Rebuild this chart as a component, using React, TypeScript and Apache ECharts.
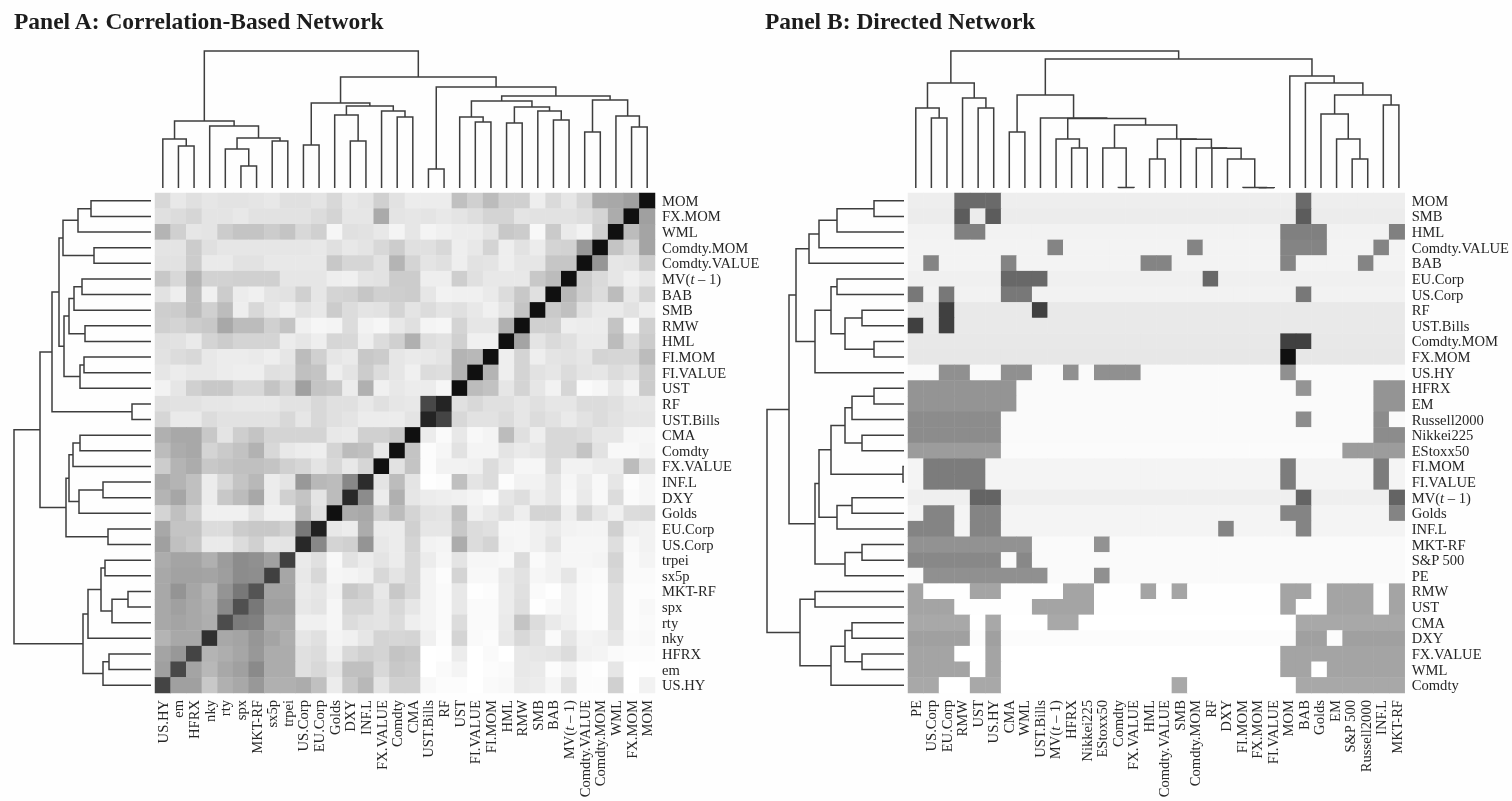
import React, { useEffect, useRef } from "react";
import * as echarts from "echarts";

const FONT = '"Liberation Serif", "Times New Roman", serif';

// ---------- Panel A ----------
const corrRowLabels = ["MOM","FX.MOM","WML","Comdty.MOM","Comdty.VALUE","MV(t – 1)","BAB","SMB","RMW","HML","FI.MOM","FI.VALUE","UST","RF","UST.Bills","CMA","Comdty","FX.VALUE","INF.L","DXY","Golds","EU.Corp","US.Corp","trpei","sx5p","MKT-RF","spx","rty","nky","HFRX","em","US.HY"];
const corrColLabels = ["US.HY","em","HFRX","nky","rty","spx","MKT-RF","sx5p","trpei","US.Corp","EU.Corp","Golds","DXY","INF.L","FX.VALUE","Comdty","CMA","UST.Bills","RF","UST","FI.VALUE","FI.MOM","HML","RMW","SMB","BAB","MV(t – 1)","Comdty.VALUE","Comdty.MOM","WML","FX.MOM","MOM"];
// grey level of every cell (hex), one line per row
const corrShades = [
"d8 e8 e0 e6 e3 e3 e5 e8 e0 e0 e4 d8 e8 e4 d0 e2 ec ec ec c0 d0 bc d0 d0 ee da e6 d6 aa a8 a0 10",
"e0 dc d6 e4 e4 e8 e2 e2 e2 e2 dc d4 e6 e6 aa e4 e6 e4 e8 e4 de d4 d4 e4 e2 e2 e2 de d4 ac 10 a0",
"b4 d0 e6 e4 cc c4 c4 cc c4 d8 d0 f6 e0 e2 e8 f4 e6 f4 f0 ec ec e4 c8 cc f8 ca ea f2 d0 10 bc a4",
"e4 e4 cc e0 e6 e6 e6 e6 e6 e6 e8 e0 e8 e4 d8 cc e0 e0 d8 ee e8 d4 ee e2 ec d4 d2 98 10 c4 d8 a4",
"e2 e2 cc ea ea e2 e2 e8 e8 e8 e8 c8 d6 d6 e2 b4 d4 e4 e0 ee e2 e4 ee e6 e6 c6 c6 10 96 e6 e4 cc",
"c8 d8 b4 d2 d2 d0 d0 d0 e6 e6 e6 ee f0 e4 e2 cc cc ee ee ce e0 e8 e8 e8 c8 bc 10 cc da e6 f0 e8",
"e2 ee bc f0 cc ec f0 e4 e2 d0 e6 d4 d2 c6 d0 ce cc e6 f2 f0 f0 ea dc c8 e0 10 b8 ce dc bc e8 d4",
"ce cc bc d0 bc ee d8 e6 ee e2 e8 cc dc e4 e2 d4 e4 dc e4 e0 e8 f0 e4 c4 10 ca c0 e0 ea ea e2 ee",
"d0 d4 cc c8 a8 bc bc d0 c4 f0 f6 f4 dc f2 f6 e8 e0 f4 f6 d4 e6 e6 b0 10 d0 d0 ee ec ec c4 f8 d0",
"e0 e2 ea d4 cc d4 d4 d4 ec e6 ee d6 d8 ee dc d0 b0 de e2 d0 f0 f0 10 a4 e4 da e0 ea ea bc de cc",
"e2 dc d8 e8 ec ec ea ee e6 bc d0 e6 ea c8 cc e6 ea e8 e4 b4 b8 10 ee d4 ee e4 e2 e6 d4 d6 d6 bc",
"e6 ec e8 e8 ec ee ee e0 e2 c0 c4 ee e4 cc dc e6 f0 dc de b4 10 b4 ee d4 e2 e6 dc e4 e6 dc e2 cc",
"f2 e6 d0 c8 c8 d8 d8 c4 d4 a0 c4 c8 ec b0 f0 e8 ec ec f6 10 bc c2 e6 d4 e6 f2 d6 fa f6 e8 f4 cc",
"e0 e2 e2 e6 e6 e8 e8 e8 e2 e2 d8 e0 e0 e8 e0 e6 e8 48 24 e0 d8 e0 e0 e6 e0 e6 e6 dc dc e0 e8 e8",
"d6 ea ea dc e2 e2 e2 e2 d8 e6 d8 e0 e4 ec ec ec e4 24 44 d8 e2 e2 dc e6 dc e2 ea e2 dc e2 e6 e6",
"b0 a8 a8 c8 e4 ce c4 d4 d4 d4 d4 e8 ea d0 d0 c8 10 ec fa e8 f8 f4 bc e0 ee d8 d8 dc e6 e6 f6 f6",
"bc ac a8 d4 ca c2 b2 d8 e8 ec ee d4 bc c0 e8 10 c4 fc f6 e2 f4 f4 e4 ea e6 d8 d8 c4 e2 f8 f8 f4",
"cc b4 ac c8 c4 c0 c0 c4 d0 d6 e4 d8 e8 d6 10 e2 c4 fc f2 f2 f0 dc ea f6 f6 dc f2 f2 ec ec bc e0",
"ac b4 c0 ec d8 c4 b8 ec e4 98 b8 bc 88 2c e4 bc e4 fe fc c0 e4 dc fc f2 f2 e6 f6 ec f8 e6 fc f6",
"b4 a6 c0 ec c8 bc a8 ec d0 c4 e4 bc 28 8c ec b0 e6 ec ee f0 f4 fa e6 de ee e6 f8 ea f8 dc fa f6",
"d4 c0 d0 f0 f0 f0 e2 f0 f0 bc e0 10 ac a8 d0 bc d4 e2 e4 c0 f0 e8 e0 ee d4 d4 ee d4 e6 f0 dc da",
"a8 c4 c4 dc dc cc c8 c8 d0 78 20 e8 ec ac ec ec d0 e6 e6 c8 dc e0 f6 f6 f0 ea f2 f4 f4 d0 f0 f2",
"a0 c0 c8 ea ea dc d0 e6 e4 28 88 d4 d0 94 e8 ec d4 f2 f4 ac dc d4 f4 f6 f0 e4 f6 f6 f6 de f8 f2",
"ac a4 a4 b0 9c 8c 90 a0 40 ea e0 f8 e2 ec e4 ec d8 ec f6 e4 f6 f6 f8 dc fa f2 f6 f6 f4 d4 fa f4",
"a8 a2 a2 a4 9e 8c 8e 40 a6 e8 d8 f6 f4 f0 d8 e4 d8 f4 fc d4 f8 f8 ea e2 f6 f2 e6 f8 fa d8 fa fa",
"a8 94 a6 b4 94 78 54 a4 a4 ea e6 f2 c8 d0 e8 c8 d8 f4 fa e8 fe fc ec e0 fa fe f2 fa fc e0 fc fc",
"a8 a0 a8 b0 8a 50 78 a0 a0 e8 e4 f6 d6 d6 e4 d8 e6 f4 fa e8 fa fa ec de fe f8 f2 fa fc e0 fc f8",
"a8 a4 a8 ae 4c 7c 80 aa a8 f0 f0 f6 dc e2 e4 dc ee f4 fa dc fa fa ea c4 dc ea f0 fa fc e0 fc fa",
"b4 a8 a8 30 a8 a4 96 a4 ae e6 e0 f4 f0 e6 d4 d6 d4 f0 fc d4 fa fc e8 d8 e2 fa e6 f4 f2 e6 fa f8",
"a4 98 44 b4 ae a6 98 ac ac e0 dc f0 d8 d0 d4 c4 c8 ff fe ec ff fa ff e8 e6 e4 dc f2 f4 fa fc fc",
"a0 48 a4 b8 a8 a0 8a ac ac e0 d8 e4 c0 c0 d8 c8 cc ff fa f4 ff fc fa e8 ea fc f2 fc fe e6 ff fe",
"44 a0 a0 c8 b0 a8 98 b0 b0 ac c0 ec c8 b8 e4 d0 d0 f8 fc fc ff fa f8 ea ec f6 e2 fc fc d0 ff f2",
];

// Dendrogram: [merge height, left child, right child]; a number is a leaf index.
const corrTopTree = [137,
  [67, [49, 0, [42, 1, 2]], [62, 3, [50, [39, 4, [22, 5, 6]], [47, 7, 8]]]],
  [111,
    [85, [43, 9, 10], [82, [73, 11, [47, 12, 13]], [77, 14, [71, 15, 16]]]],
    [101, [19, 17, 18],
      [92,
        [87, [71, 19, [66, 20, 21]], [81, [65, 22, 23], [77, 24, [68, 25, 26]]]],
        [88, [56, 27, 28], [72, 29, [61, 30, 31]]]]]]];
const corrLeftTree = [137,
  [111,
    [99,
      [92,
        [88, [73, [60, 0, 1], 2], [57, 3, 4]],
        [87, [82, [77, [69, 5, 6], 7], [66, 8, 9]], [71, [67, 10, 11], 12]]],
      [19, 13, 14]],
    [85, [82, [78, [71, 15, 16], 17], [72, [48, 18, 19], 20]], [43, 21, 22]]],
  [68, [63, [50, [46, 23, 24], [39, [23, 25, 26], 27]], 28], [48, [42, 29, 30], 31]]];

// ---------- Panel B ----------
const directedRowLabels = ["MOM","SMB","HML","Comdty.VALUE","BAB","EU.Corp","US.Corp","RF","UST.Bills","Comdty.MOM","FX.MOM","US.HY","HFRX","EM","Russell2000","Nikkei225","EStoxx50","FI.MOM","FI.VALUE","MV(t – 1)","Golds","INF.L","MKT-RF","S&P 500","PE","RMW","UST","CMA","DXY","FX.VALUE","WML","Comdty"];
const directedColLabels = ["PE","US.Corp","EU.Corp","RMW","UST","US.HY","CMA","WML","UST.Bills","MV(t – 1)","HFRX","Nikkei225","EStoxx50","Comdty","FX.VALUE","HML","Comdty.VALUE","SMB","Comdty.MOM","RF","DXY","FI.MOM","FX.MOM","FI.VALUE","MOM","BAB","Golds","EM","S&P 500","Russell2000","INF.L","MKT-RF"];
const directedBackground = [0xee,0xec,0xf2,0xf3,0xf3,0xf0,0xf2,0xe9,0xe9,0xe8,0xe7,0xfa,0xfa,0xfa,0xfa,0xfa,0xfb,0xf4,0xf4,0xef,0xf4,0xf4,0xfa,0xfa,0xfa,0xfe,0xfe,0xff,0xfc,0xff,0xff,0xff];
const directedLink = [0x6a,0x5c,0x80,0x84,0x84,0x68,0x78,0x40,0x40,0x40,0x10,0x90,0x94,0x94,0x8c,0x8c,0x9c,0x7c,0x7c,0x64,0x84,0x84,0x92,0x88,0x90,0xa4,0xa4,0xa8,0xa0,0xa4,0xa4,0xa8];
const directedLinks = [
  [3,4,5,25],
  [3,5,25],
  [3,4,24,25,26,31],
  [9,18,24,25,26,30],
  [1,6,15,16,24,29],
  [6,7,8,19],
  [0,2,6,7,25],
  [2,8],
  [0,2],
  [24,25],
  [24],
  [2,3,6,7,10,12,13,14,24],
  [0,1,2,3,4,5,6,25,30,31],
  [0,1,2,3,4,5,6,30,31],
  [0,1,2,3,4,5,25,30],
  [0,1,2,3,4,5,30,31],
  [0,1,2,3,4,5,28,29,30,31],
  [1,2,3,4,24,30],
  [1,2,3,4,24,30],
  [4,5,25,31],
  [1,2,4,5,24,25,31],
  [0,1,2,4,5,20,25],
  [0,1,2,3,4,5,6,7,12],
  [0,1,2,3,4,5,7],
  [1,2,3,4,5,6,7,8,12],
  [0,4,5,10,11,15,17,24,25,27,28,29,31],
  [0,1,2,8,9,10,11,24,27,28,29,31],
  [0,1,2,3,5,9,10,25,26,27,28,29,30,31],
  [0,1,2,3,5,25,26,28,29,30,31],
  [0,1,2,5,24,25,26,27,28,29,30,31],
  [0,1,2,3,5,24,25,27,28,29,30,31],
  [0,1,4,5,17,25,26,27,28,29,30,31],
];

const directedTopTree = [137,
  [105, [80, 0, [70, 1, 2]], [90, 3, [80, 4, 5]]],
  [129,
    [93, [56, 6, 7],
      [70, 8,
        [69.6, [49, 9, [40, 10, 11]],
          [63, [40, 12, [0.5, 13, 14]],
            [49, [29, 15, 16],
              [48.8, 17,
                [40, 18,
                  [39.8, 19, [29, 20, [0.6, 21, [0.3, 22, 23]]]]]]]]]]],
    [112, 24,
      [105, 25,
        [93, [74, 26, [49, 27, [29, 28, 29]]], [83, 30, 31]]]]]];
const directedLeftTree = [137,
  [115,
    [108,
      [95, [85, [67, [30, 0, 1], 2], 3], 4],
      [89, [73, [67, 5, 6], [59, [42, 7, 8], [30, 9, 10]]], 11]],
    [89,
      [85,
        [73, [59, [52, [30, 12, 13], 14], [42, 15, 16]], [1, 17, 18]],
        [67, [52, 19, 20], 21]],
      [59, [42, 22, 23], 24]]],
  [104, [89, 25, 26], [73, [59, [52, 27, 28], [42, 29, 30]], 31]]];

// ---------- helpers ----------
function corrCells() {
  const out: number[][] = [];
  corrShades.forEach((line, r) => {
    line.split(" ").forEach((hex, c) => out.push([c, r, parseInt(hex, 16)]));
  });
  return out;
}
function directedCells() {
  const out: number[][] = [];
  directedRowLabels.forEach((_, r) => {
    directedColLabels.forEach((__, c) => {
      const linked = directedLinks[r].includes(c);
      out.push([c, r, linked ? directedLink[r] : directedBackground[r]]);
    });
  });
  return out;
}
// Each bracket: [pos of left child, pos of right child, height, left child's height, right child's height]
function brackets(tree: any) {
  const out: number[][] = [];
  const walk = (n: any): { p: number; h: number } => {
    if (typeof n === "number") return { p: n, h: 0 };
    const a = walk(n[1]);
    const b = walk(n[2]);
    out.push([a.p, b.p, n[0], a.h, b.h]);
    return { p: (a.p + b.p) / 2, h: n[0] };
  };
  walk(tree);
  return out;
}

const LINE = { stroke: "#3e3e3e", lineWidth: 1.5, fill: "none" };
const topRender = (_: any, api: any) => ({
  type: "polyline",
  shape: { points: [
    api.coord([api.value(0), api.value(3)]),
    api.coord([api.value(0), api.value(2)]),
    api.coord([api.value(1), api.value(2)]),
    api.coord([api.value(1), api.value(4)]),
  ] },
  style: LINE,
});
const leftRender = (_: any, api: any) => ({
  type: "polyline",
  shape: { points: [
    api.coord([api.value(3), api.value(0)]),
    api.coord([api.value(2), api.value(0)]),
    api.coord([api.value(2), api.value(1)]),
    api.coord([api.value(4), api.value(1)]),
  ] },
  style: LINE,
});

const labelStyle = {
  fontFamily: FONT,
  fontSize: 14.6,
  color: "#262626",
  interval: 0,
  formatter: (v: string) => v.replace("(t", "({i|t}"),
  rich: { i: { fontFamily: FONT, fontSize: 14.6, fontStyle: "italic", color: "#262626" } },
};
const bareCategory = (data: string[], gridIndex: number, extra: any) => ({
  type: "category", data, gridIndex,
  axisLine: { show: false }, axisTick: { show: false }, splitLine: { show: false },
  ...extra,
});
const hiddenValue = (gridIndex: number, min: number, max: number, inverse = false) => ({
  type: "value", gridIndex, min, max, inverse, show: false,
});

const HEAT_TOP = 193, HEAT_H = 500, LEAF_TOP_Y = 188, TREE_SPAN = 150;
const panels = [
  { left: 155, width: 500, treeRight: 151, rows: corrRowLabels, cols: corrColLabels, cells: corrCells(), top: corrTopTree, side: corrLeftTree },
  { left: 908, width: 498.7, treeRight: 904, rows: directedRowLabels, cols: directedColLabels, cells: directedCells(), top: directedTopTree, side: directedLeftTree },
];

export default function App() {
  const ref = useRef<HTMLDivElement>(null);
  useEffect(() => {
    const chart = echarts.init(ref.current!, null, { renderer: "svg" });
    const grid: any[] = [], xAxis: any[] = [], yAxis: any[] = [], series: any[] = [];
    panels.forEach((p, i) => {
      const g = i * 3;
      grid.push({ left: p.left, top: HEAT_TOP, width: p.width, height: HEAT_H });
      grid.push({ left: p.left, top: LEAF_TOP_Y - TREE_SPAN, width: p.width, height: TREE_SPAN });
      grid.push({ left: p.treeRight - TREE_SPAN, top: HEAT_TOP, width: TREE_SPAN, height: HEAT_H });

      xAxis.push(bareCategory(p.cols, g, { axisLabel: { ...labelStyle, rotate: 90, margin: 7 } }));
      yAxis.push(bareCategory(p.rows, g, { inverse: true, position: "right", axisLabel: { ...labelStyle, margin: 7 } }));
      xAxis.push(hiddenValue(g + 1, -0.5, 31.5));
      yAxis.push(hiddenValue(g + 1, 0, TREE_SPAN));
      xAxis.push(hiddenValue(g + 2, 0, TREE_SPAN, true));
      yAxis.push(hiddenValue(g + 2, -0.5, 31.5, true));

      series.push({ type: "heatmap", name: i ? "directed" : "correlation", xAxisIndex: g, yAxisIndex: g, data: p.cells, silent: true, progressive: 0, itemStyle: { borderWidth: 0 }, emphasis: { disabled: true } });
      series.push({ type: "custom", xAxisIndex: g + 1, yAxisIndex: g + 1, data: brackets(p.top), renderItem: topRender, silent: true, clip: false });
      series.push({ type: "custom", xAxisIndex: g + 2, yAxisIndex: g + 2, data: brackets(p.side), renderItem: leftRender, silent: true, clip: false });
    });
    chart.setOption({
      animation: false,
      backgroundColor: "#fefefe",
      title: [
        { text: "Panel A: Correlation-Based Network", left: 9, top: 4, textStyle: { fontFamily: FONT, fontWeight: "bold", fontSize: 23.5, color: "#1c1c1c" } },
        { text: "Panel B: Directed Network", left: 760, top: 4, textStyle: { fontFamily: FONT, fontWeight: "bold", fontSize: 23.5, color: "#1c1c1c" } },
      ],
      visualMap: { show: false, type: "continuous", min: 0, max: 255, dimension: 2, seriesIndex: [0, 3], inRange: { color: ["#000000", "#ffffff"] } },
      grid, xAxis, yAxis, series,
    });
    return () => chart.dispose();
  }, []);
  return <div ref={ref} style={{ position: "fixed", left: 0, top: 0, width: 1512, height: 801, filter: "blur(0.4px)" }} />;
}
